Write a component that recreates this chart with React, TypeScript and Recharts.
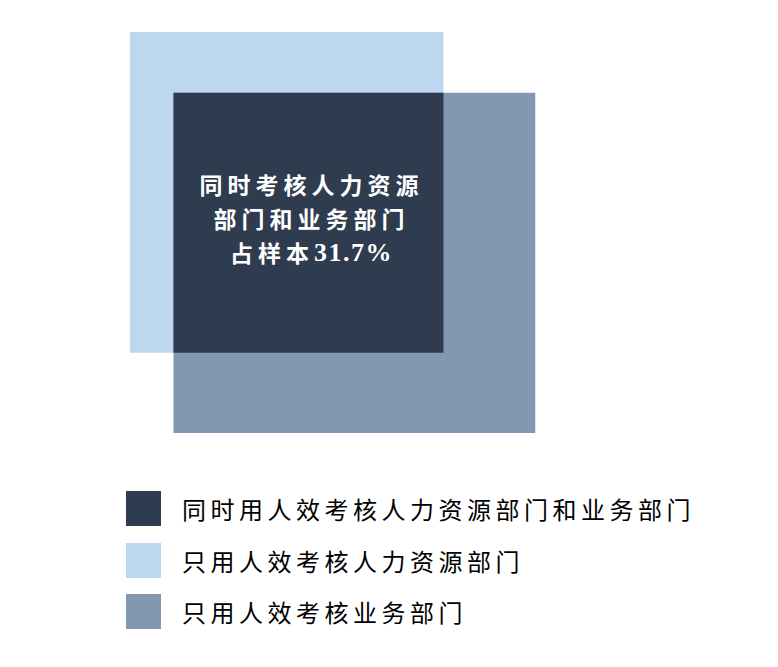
import React from 'react';
import { ComposedChart, XAxis, YAxis, ReferenceArea, Legend } from 'recharts';

// set names, colours and the share written in the overlap
const setNames = ['同时用人效考核人力资源部门和业务部门', '只用人效考核人力资源部门', '只用人效考核业务部门'];
const setColors = ['#2F3B4E', '#BDD7EE', '#8497B0'];
const overlapLines = ['同时考核人力资源', '部门和业务部门', '占样本'];
const overlapShare = 31.7;

// square extents on a 0-100 frame (x left to right, y top to bottom)
const hrSquare = { x1: 16.7, x2: 57.0, y1: 4.8, y2: 52.9 };
const bizSquare = { x1: 22.3, x2: 68.8, y1: 13.9, y2: 64.9 };

const overlap = {
    x1: Math.max(hrSquare.x1, bizSquare.x1),
    x2: Math.min(hrSquare.x2, bizSquare.x2),
    y1: Math.max(hrSquare.y1, bizSquare.y1),
    y2: Math.min(hrSquare.y2, bizSquare.y2),
};

const CJK = '"Noto Sans CJK SC", "Noto Sans", sans-serif';

const CenterText = (props: any) => {
    const vb = props.viewBox || {};
    const cx = vb.x + vb.width / 2 + 3;
    const cy = vb.y + vb.height / 2;
    const offsets = [-39, -5, 29];
    return (
        <g>
            {overlapLines.map((line, i) => (
                <text key={i} x={cx} y={cy + offsets[i]} textAnchor="middle" dominantBaseline="central"
                      fill="#fff" fontFamily={CJK} fontWeight="bold" fontSize={23} letterSpacing={5}>
                    {line}
                    {i === overlapLines.length - 1 && (
                        <tspan fontFamily='"Liberation Serif", serif' fontSize={26} letterSpacing={1.5}>
                            {overlapShare.toFixed(1)}%
                        </tspan>
                    )}
                </text>
            ))}
        </g>
    );
};

const renderLegend = () => (
    <div>
        {setNames.map((name, i) => (
            <div key={name} style={{ display: 'flex', alignItems: 'center', height: 35, marginBottom: 16.5 }}>
                <div style={{ width: 35, height: 35, background: setColors[i], marginRight: 21 }} />
                <span style={{ fontFamily: CJK, fontSize: 24, letterSpacing: 4.5, color: '#000', lineHeight: '35px', whiteSpace: 'nowrap' }}>
                    {name}
                </span>
            </div>
        ))}
    </div>
);

export default function App() {
    return (
        <div style={{ position: 'absolute', left: 0, top: 0, width: 778, height: 667, background: '#fff' }}>
            <ComposedChart width={778} height={667} data={[{ x: 0, y: 0 }]} margin={{ top: 0, right: 0, bottom: 0, left: 0 }}>
                <XAxis type="number" dataKey="x" domain={[0, 100]} hide />
                <YAxis type="number" dataKey="y" domain={[0, 100]} reversed hide />
                <ReferenceArea x1={hrSquare.x1} x2={hrSquare.x2} y1={hrSquare.y1} y2={hrSquare.y2}
                               fill={setColors[1]} fillOpacity={1} stroke="none" />
                <ReferenceArea x1={bizSquare.x1} x2={bizSquare.x2} y1={bizSquare.y1} y2={bizSquare.y2}
                               fill={setColors[2]} fillOpacity={1} stroke="none" />
                <ReferenceArea x1={overlap.x1} x2={overlap.x2} y1={overlap.y1} y2={overlap.y2}
                               fill={setColors[0]} fillOpacity={1} stroke="none"
                               label={(p: any) => <CenterText {...p} />} />
                <Legend layout="vertical" align="center" verticalAlign="middle" content={renderLegend}
                        wrapperStyle={{ position: 'absolute', left: 126, top: 491, width: 640 }} />
            </ComposedChart>
        </div>
    );
}
